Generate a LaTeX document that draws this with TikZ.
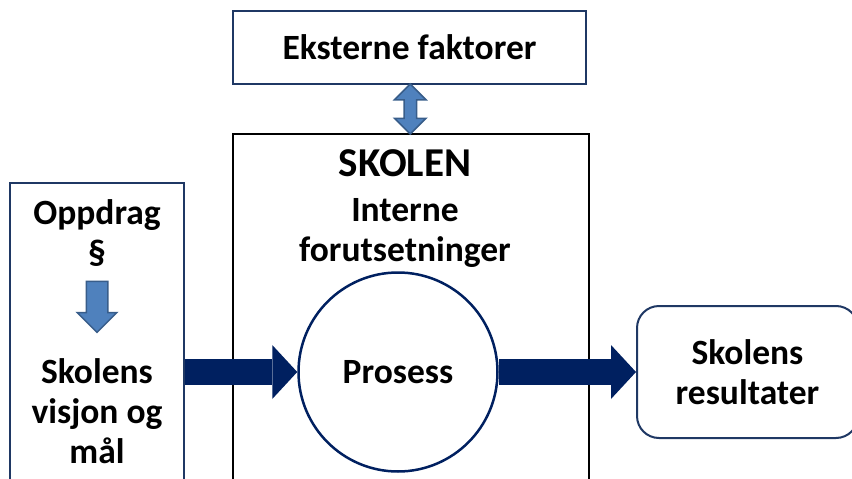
\documentclass[tikz,border=0pt]{standalone}
\usepackage{fontspec}
\setmainfont{Carlito}
\usepackage{tikz}
\usetikzlibrary{positioning,arrows.meta,shapes.arrows}

\definecolor{marine}{HTML}{002060}
\definecolor{kant}{HTML}{1F3864}
\definecolor{lysbla}{HTML}{4F81BD}
\definecolor{lyskant}{HTML}{385D8A}

\tikzset{
  boks/.style={draw=kant, line width=2pt, fill=white, inner sep=0pt},
  tekst/.style={font=\fontsize{35.5}{40}\selectfont\bfseries, align=center, inner sep=0pt},
  pil/.style={draw=marine, line width=26pt, -{Triangle[length=25pt,width=54pt,line width=0pt]}},
  blapil/.style={fill=lysbla, draw=lyskant, line width=1.5pt, inner xsep=0pt}
}

\begin{document}
\begin{tikzpicture}[x=1pt,y=-1pt]
  \useasboundingbox (0,0) rectangle (852,479);

  \node[boks, tekst, minimum width=353pt, minimum height=73pt] (ekstern) at (409.5,47.5) {Eksterne faktorer};

  \node[draw=black, line width=2pt, minimum width=356pt, minimum height=356pt] (skolen) at (411,312) {};
  \node[tekst, font=\fontsize{41}{46}\selectfont\bfseries] (skolentittel) at (405,163) {SKOLEN};
  \node[tekst] (interne) at (405,233) {Interne\\forutsetninger};

  \node[boks, minimum width=174pt, minimum height=307pt] (venstre) at (97,336.5) {};
  \node[tekst] (oppdrag) at (97,233) {Oppdrag\\§};
  \node[tekst] (visjon) at (97,411) {Skolens\\visjon og\\mål};

  \node[boks, tekst, circle, draw=marine, line width=2.5pt, minimum size=199pt] (prosess) at (398,372) {Prosess};

  \node[boks, tekst, rounded corners=22pt, minimum width=221pt, minimum height=132pt] (resultat) at (747.5,372) {Skolens\\resultater};

  \draw[pil] (venstre.east |- prosess.west) -- (prosess.west);
  \draw[pil] (prosess.east) -- (resultat.west);

  \path (ekstern.south) -- (skolen.north) node[midway, blapil, double arrow, rotate=90, minimum height=50pt, inner ysep=5.5pt, double arrow head extend=9.5pt] (kobling) {};
  \path (oppdrag.south) -- (visjon.north) node[pos=0.38, blapil, single arrow, rotate=-90, minimum height=51pt, inner ysep=10pt, single arrow head extend=9pt] (nedpil) {};
\end{tikzpicture}
\end{document}
